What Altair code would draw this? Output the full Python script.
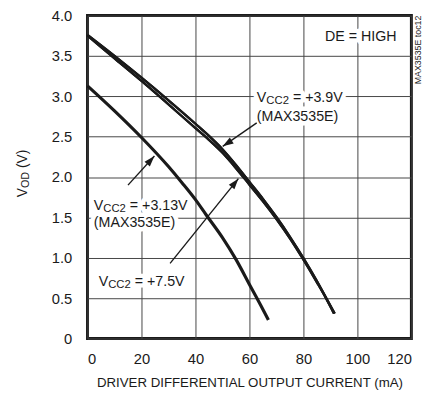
import altair as alt
import pandas as pd

# ---------------- data ----------------
x_39 = [0, 10, 20, 30, 40, 45, 50, 55, 60, 65, 70, 75, 80, 85, 88, 91.6]
v_39 = [3.76, 3.50, 3.23, 2.95, 2.66, 2.51, 2.345, 2.15, 1.94, 1.73, 1.505, 1.26, 0.995, 0.71, 0.53, 0.31]
x_75 = [0, 10, 20, 30, 40, 45, 50, 55, 60, 65, 70, 75, 80, 85, 88, 91.3]
v_75 = [3.75, 3.47, 3.19, 2.90, 2.605, 2.46, 2.30, 2.11, 1.905, 1.70, 1.48, 1.24, 0.975, 0.695, 0.52, 0.31]
x_313 = [0, 10, 20, 30, 35, 40, 44, 50, 55, 60, 65, 67]
v_313 = [3.13, 2.82, 2.49, 2.13, 1.93, 1.72, 1.53, 1.25, 0.98, 0.67, 0.36, 0.23]

x_ticks = [0, 20, 40, 60, 80, 100, 120]
y_ticks = [0, 0.5, 1.0, 1.5, 2.0, 2.5, 3.0, 3.5, 4.0]

# label anchors (data coords) and texts
label_x = [62.75, 2.35, 4.16]
label_y = [2.93, 1.59, 0.65]
label_val = ["= +3.9V", "= +3.13V", "= +7.5V"]
label_sub = ["(MAX3535E)", "(MAX3535E)", ""]
sub_line_y = [2.69, 1.385, None]

# arrows: start -> tip (data coords), heading angle of the head
arr_x1 = [62.7, 15.0, 30.6]
arr_y1 = [2.67, 1.90, 0.93]
arr_x2 = [50.1, 24.8, 55.9]
arr_y2 = [2.38, 2.26, 1.98]
arr_ang = [236.7, 42.0, 38.8]

FONT = "Liberation Sans"
INK = "#1a1a1a"
FS = 14.5
SUB = 11.5

W_ARIAL = {'V': .667, 'C': .722, '2': .556, 'O': .778, 'D': .722, ' ': .278,
           '=': .584, '+': .584, '.': .278, '(': .333, ')': .333}


def tw(s, size):
    return sum(W_ARIAL.get(c, .556) for c in s) * size


xs = alt.Scale(domain=[0, 120])
ys = alt.Scale(domain=[0, 4])

curves = pd.concat([
    pd.DataFrame({"I": x_39, "V": v_39, "s": "3.9"}),
    pd.DataFrame({"I": x_75, "V": v_75, "s": "7.5"}),
    pd.DataFrame({"I": x_313, "V": v_313, "s": "3.13"}),
])

pair = alt.Chart(curves[curves.s != "3.13"]).mark_line(
    interpolate="monotone", strokeWidth=2.3, color=INK).encode(
    x=alt.X("I:Q", scale=xs,
            axis=alt.Axis(values=x_ticks, grid=True, ticks=False, domain=False,
                          labelPadding=13, title="DRIVER DIFFERENTIAL OUTPUT CURRENT (mA)",
                          titlePadding=10)),
    y=alt.Y("V:Q", scale=ys,
            axis=alt.Axis(values=y_ticks, grid=True, ticks=False, domain=False,
                          labelPadding=16, title=None,
                          labelExpr="datum.value == 0 ? '0' : format(datum.value, '.1f')")),
    detail="s:N",
)
curve_313 = alt.Chart(curves[curves.s == "3.13"]).mark_line(
    interpolate="monotone", strokeWidth=3.2, color=INK).encode(
    x=alt.X("I:Q", scale=xs), y=alt.Y("V:Q", scale=ys))


def seg(x, y, text, size, dx=0, dy=0, align="left", angle=0, halo=False):
    d = pd.DataFrame({"x": [x], "y": [y], "t": [text]})
    kw = dict(font=FONT, fontSize=size, align=align, baseline="alphabetic", dx=dx, dy=dy)
    if angle:
        kw["angle"] = angle
    if halo:
        kw.update(stroke="white", strokeWidth=9, fill="white", strokeJoin="round")
    else:
        kw.update(color=INK)
    return alt.Chart(d).mark_text(**kw).encode(
        x=alt.X("x:Q", scale=xs), y=alt.Y("y:Q", scale=ys), text="t:N")


halos, texts = [], []
for i in range(3):
    parts = [("V", FS, 0, 0), ("CC2", SUB, tw("V", FS), 2),
             (label_val[i], FS, tw("V", FS) + tw("CC2", SUB) + tw(" ", FS), 0)]
    for t, s, dx, dy in parts:
        halos.append(seg(label_x[i], label_y[i], t, s, dx, dy, halo=True))
        texts.append(seg(label_x[i], label_y[i], t, s, dx, dy))
    if label_sub[i]:
        halos.append(seg(label_x[i], sub_line_y[i], label_sub[i], FS, halo=True))
        texts.append(seg(label_x[i], sub_line_y[i], label_sub[i], FS))

# DE = HIGH
halos.append(seg(114.5, 3.68, "DE = HIGH", FS, align="right", halo=True))
texts.append(seg(114.5, 3.68, "DE = HIGH", FS, align="right"))

# y axis title  V_OD (V), rotated
YT = 14
YS = 11
yt_x, yt_y = -22.5, 1.75
for t, s, dx, dy in [("V", YT, 0, 0), ("OD", YS, tw("V", YT), 2),
                     ("(V)", YT, tw("V", YT) + tw("OD", YS) + tw(" ", YT), 0)]:
    texts.append(seg(yt_x, yt_y, t, s, dx, dy, angle=270))

# side tag
texts.append(seg(123.6, 4.0, "MAX3535E toc12", 9, align="right", angle=270))

arrows = pd.DataFrame({"x1": arr_x1, "y1": arr_y1, "x2": arr_x2, "y2": arr_y2, "a": arr_ang})
arrow_lines = alt.Chart(arrows).mark_rule(color=INK, strokeWidth=1.4).encode(
    x=alt.X("x1:Q", scale=xs), y=alt.Y("y1:Q", scale=ys), x2="x2:Q", y2="y2:Q")
arrow_heads = alt.Chart(arrows).mark_point(
    shape="M0,0L-0.33,1L0.33,1Z", filled=True, size=484, color=INK, opacity=1, strokeWidth=0).encode(
    x=alt.X("x2:Q", scale=xs), y=alt.Y("y2:Q", scale=ys), angle=alt.Angle("a:Q", scale=None))

chart = alt.layer(pair, *halos, pair, curve_313, *texts, arrow_lines, arrow_heads).properties(
    width=330, height=329, autosize="none",
    padding={"left": 81, "top": 4, "right": 21, "bottom": 61},
    background="white",
).configure_view(stroke=INK, strokeWidth=3).configure_axis(
    gridColor="#444", gridWidth=1, gridOpacity=1,
    labelFont=FONT, labelFontSize=15, labelColor=INK,
    titleFont=FONT, titleFontSize=13.5, titleColor=INK, titleFontWeight="normal",
)

chart.save("out.html", embed_options={"renderer": "svg", "actions": False})
